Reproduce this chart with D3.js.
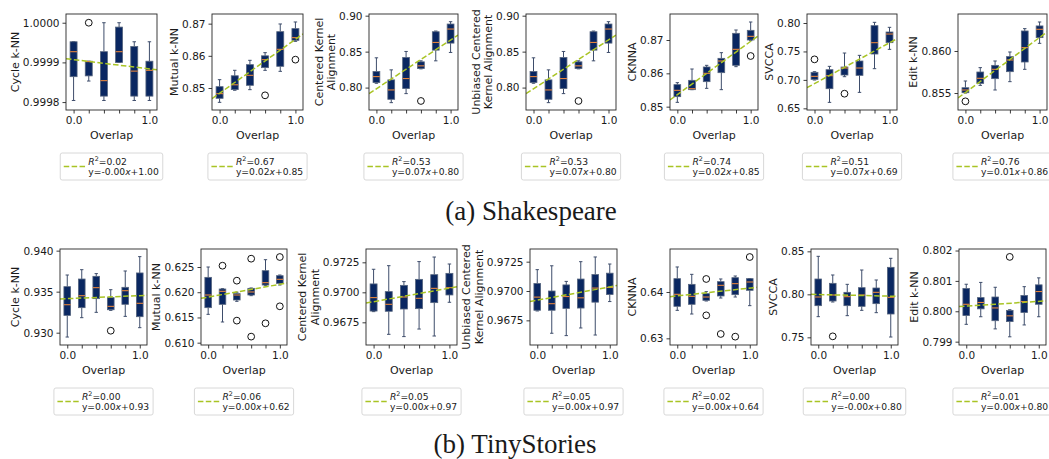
<!DOCTYPE html>
<html>
<head>
<meta charset="utf-8">
<script src="https://cdn.jsdelivr.net/npm/d3@7"></script>
<style>
  body { margin: 0; background: #fff; }
  svg { display: block; }
  text { font-family: "DejaVu Sans", sans-serif; fill: #1a1a1a; }
  .caption { font-family: "Liberation Serif", "Times New Roman", serif; }
</style>
</head>
<body>
<svg id="chart" width="1049" height="459"></svg>
<script>
// Overlap levels on the x axis
const overlap = [0.0, 0.2, 0.4, 0.6, 0.8, 1.0];
const metricNames = ["Cycle k-NN", "Mutual k-NN", "Centered Kernel\nAlignment",
  "Unbiased Centered\nKernel Alignment", "CKNNA", "SVCCA", "Edit k-NN"];

// Box statistics per overlap level: [lower whisker, Q1, median, Q3, upper whisker]
// Shakespeare
const shCycle = [
  [0.999804, 0.999864, 0.999927, 0.999952, 0.999952],
  [0.999853, 0.999866, 0.999902, 0.999903, 0.999903],
  [0.999804, 0.999815, 0.999854, 0.999927, 1.000000],
  [0.999900, 0.999900, 0.999927, 0.999989, 1.000000],
  [0.999804, 0.999815, 0.999878, 0.999940, 0.999952],
  [0.999804, 0.999815, 0.999880, 0.999903, 0.999952]];
const shMutual = [
  [0.84554, 0.84679, 0.84824, 0.85041, 0.85259],
  [0.8493, 0.8495, 0.8510, 0.8538, 0.8555],
  [0.84948, 0.85083, 0.85394, 0.85725, 0.8586],
  [0.85549, 0.85632, 0.85881, 0.8600, 0.86098],
  [0.85518, 0.85674, 0.86202, 0.86751, 0.8699],
  [0.86451, 0.86482, 0.86565, 0.86845, 0.87052]];
const shCka = [
  [0.806, 0.80698, 0.8153, 0.8223, 0.8414],
  [0.77907, 0.78372, 0.79674, 0.8107, 0.82465],
  [0.79163, 0.7986, 0.81256, 0.84186, 0.85023],
  [0.82605, 0.82651, 0.83023, 0.83581, 0.8372],
  [0.8372, 0.85209, 0.86279, 0.87767, 0.8786],
  [0.84884, 0.86186, 0.8814, 0.88837, 0.89163]];
const shUcka = [
  [0.806, 0.80698, 0.8153, 0.8223, 0.8414],
  [0.77907, 0.78372, 0.79674, 0.8107, 0.82465],
  [0.79163, 0.7986, 0.81256, 0.84186, 0.85023],
  [0.82605, 0.82651, 0.83023, 0.83581, 0.8372],
  [0.8372, 0.85209, 0.86279, 0.87767, 0.8786],
  [0.84884, 0.86186, 0.8814, 0.88837, 0.89163]];
const shCknna = [
  [0.8513, 0.8530, 0.8549, 0.8566, 0.8572],
  [0.8551, 0.8551, 0.8554, 0.8579, 0.8613],
  [0.8555, 0.8575, 0.8600, 0.8619, 0.8624],
  [0.8551, 0.8602, 0.8637, 0.8645, 0.8662],
  [0.8620, 0.8624, 0.8672, 0.8720, 0.8730],
  [0.8698, 0.8700, 0.8711, 0.8729, 0.8754]];
const shSvcca = [
  [0.69977, 0.70094, 0.70621, 0.71325, 0.71442],
  [0.66049, 0.68452, 0.70739, 0.71794, 0.7238],
  [0.70563, 0.70856, 0.72087, 0.72263, 0.74724],
  [0.67808, 0.70797, 0.72087, 0.73318, 0.74314],
  [0.7197, 0.74549, 0.76542, 0.79531, 0.80117],
  [0.75369, 0.76542, 0.78066, 0.78417, 0.79238]];
const shEdit = [
  [0.85500, 0.85504, 0.85536, 0.85563, 0.85643],
  [0.85591, 0.85615, 0.85675, 0.85750, 0.85802],
  [0.85536, 0.85671, 0.85782, 0.85829, 0.85881],
  [0.85635, 0.85754, 0.85893, 0.85933, 0.85988],
  [0.85782, 0.85869, 0.86040, 0.86238, 0.86266],
  [0.86091, 0.86159, 0.86258, 0.86298, 0.86345]];

// Outliers: [overlap, value]
const shOutliers = [
  [[0.2, 1.0000]],
  [[0.6, 0.84772], [1.0, 0.85881]],
  [[0.6, 0.7814]],
  [[0.6, 0.7814]],
  [[1.0, 0.8652]],
  [[0.0, 0.7361], [0.4, 0.67573]],
  [[0.0, 0.85401]]];

const shTickLabels = [
  ["0.9998", "0.9999", "1.0000"],
  ["0.85", "0.86", "0.87"],
  ["0.80", "0.85", "0.90"],
  ["0.80", "0.85", "0.90"],
  ["0.85", "0.86", "0.87"],
  ["0.65", "0.70", "0.75", "0.80"],
  ["0.855", "0.860"]];
const shDomains = [
  [0.99978, 1.000022], [0.84316, 0.8730], [0.76884, 0.90233], [0.76884, 0.90233],
  [0.8490, 0.8778], [0.64707, 0.81583], [0.85298, 0.8644]];

// Linear fits of metric vs overlap
const shSlope = [-0.0000233, 0.01676, 0.0678, 0.0678, 0.0160, 0.0718, 0.00655];
const shIntercept = [0.999907, 0.84836, 0.7984, 0.7984, 0.8536, 0.69346, 0.85506];
const shR2 = [0.02, 0.67, 0.53, 0.53, 0.74, 0.51, 0.76];

// TinyStories
const tsCycle = [
  [0.92947, 0.93211, 0.93341, 0.93561, 0.93703],
  [0.93183, 0.93305, 0.93451, 0.93654, 0.93768],
  [0.93248, 0.93415, 0.93549, 0.93687, 0.93720],
  [0.93272, 0.93280, 0.93321, 0.93427, 0.93524],
  [0.93199, 0.93346, 0.93512, 0.93553, 0.93752],
  [0.93061, 0.93195, 0.93358, 0.93728, 0.93927]];
const tsMutual = [
  [0.61562, 0.61694, 0.61945, 0.62295, 0.62500],
  [0.61410, 0.61760, 0.62018, 0.62064, 0.62071],
  [0.61820, 0.61846, 0.61945, 0.61972, 0.62000],
  [0.61932, 0.61945, 0.62005, 0.62077, 0.62084],
  [0.62130, 0.62143, 0.62190, 0.62427, 0.62645],
  [0.62143, 0.62176, 0.62256, 0.62328, 0.62341]];
const tsCka = [
  [0.96839, 0.96844, 0.96956, 0.97070, 0.97192],
  [0.96650, 0.96842, 0.96900, 0.97006, 0.97222],
  [0.96631, 0.96861, 0.96961, 0.97058, 0.97089],
  [0.96694, 0.96864, 0.96950, 0.97108, 0.97256],
  [0.96636, 0.96914, 0.97033, 0.97147, 0.97294],
  [0.96917, 0.96978, 0.97039, 0.97158, 0.97236]];
const tsUcka = [
  [0.96830, 0.96836, 0.96948, 0.97064, 0.97182],
  [0.96640, 0.96836, 0.96892, 0.97000, 0.97215],
  [0.96620, 0.96852, 0.96953, 0.97052, 0.97082],
  [0.96685, 0.96855, 0.96942, 0.97102, 0.97250],
  [0.96625, 0.96905, 0.97025, 0.97140, 0.97290],
  [0.96910, 0.96970, 0.97030, 0.97152, 0.97230]];
const tsCknna = [
  [0.63604, 0.63691, 0.63950, 0.64288, 0.64540],
  [0.63525, 0.63734, 0.63906, 0.64165, 0.64381],
  [0.63806, 0.63820, 0.63892, 0.63964, 0.64007],
  [0.63870, 0.63914, 0.64144, 0.64223, 0.64281],
  [0.63892, 0.63942, 0.64180, 0.64309, 0.64345],
  [0.63705, 0.64036, 0.64216, 0.64288, 0.64288]];
const tsSvcca = [
  [0.77403, 0.78682, 0.79690, 0.81783, 0.84419],
  [0.79109, 0.79225, 0.79922, 0.81279, 0.82248],
  [0.77520, 0.78682, 0.79729, 0.80233, 0.81163],
  [0.78140, 0.78605, 0.79922, 0.80775, 0.82829],
  [0.77868, 0.78915, 0.80233, 0.80736, 0.81667],
  [0.75039, 0.77713, 0.79651, 0.83140, 0.84186]];
const tsEdit = [
  [0.79957, 0.79986, 0.80023, 0.80075, 0.80089],
  [0.79982, 0.80008, 0.80029, 0.80045, 0.80095],
  [0.79942, 0.79969, 0.80011, 0.80047, 0.80079],
  [0.79916, 0.79966, 0.79985, 0.80003, 0.80005],
  [0.79955, 0.79996, 0.80032, 0.80052, 0.80081],
  [0.79982, 0.80023, 0.80065, 0.80087, 0.80110]];

const tsOutliers = [
  [[0.6, 0.93024]],
  [[0.2, 0.62526], [0.4, 0.62229], [0.4, 0.61437], [0.6, 0.62665], [0.6, 0.61120],
   [0.8, 0.61384], [1.0, 0.62698], [1.0, 0.61721]],
  [],
  [],
  [[0.4, 0.64281], [0.4, 0.63496], [0.6, 0.63094], [0.8, 0.63036], [1.0, 0.64755]],
  [[0.2, 0.75116]],
  [[0.6, 0.80179]]];

const tsTickLabels = [
  ["0.930", "0.935", "0.940"],
  ["0.610", "0.615", "0.620", "0.625"],
  ["0.9675", "0.9700", "0.9725"],
  ["0.9675", "0.9700", "0.9725"],
  ["0.63", "0.64"],
  ["0.75", "0.80", "0.85"],
  ["0.799", "0.800", "0.801", "0.802"]];
const tsDomains = [
  [0.9285, 0.9402], [0.60954, 0.62857], [0.96561, 0.97361], [0.96540, 0.97358],
  [0.62856, 0.64928], [0.74109, 0.85271], [0.79889, 0.80205]];

const tsSlope = [0.000366, 0.00253, 0.00113, 0.00113, 0.00168, -0.00194, 0.000156];
const tsIntercept = [0.93415, 0.61904, 0.96922, 0.96922, 0.63916, 0.79981, 0.80017];
const tsR2 = [0.00, 0.06, 0.05, 0.05, 0.02, 0.00, 0.01];

// ---- layout ----
const rows = [
  { boxes: [shCycle, shMutual, shCka, shUcka, shCknna, shSvcca, shEdit],
    outliers: shOutliers, ticks: shTickLabels, domains: shDomains,
    slope: shSlope, intercept: shIntercept, r2: shR2,
    lefts: [66, 212, 369, 526, 670, 807, 958], widths: [91, 91, 89, 90, 88, 90, 89],
    top: 14, caption: "(a) Shakespeare", capX: 531, capY: 220 },
  { boxes: [tsCycle, tsMutual, tsCka, tsUcka, tsCknna, tsSvcca, tsEdit],
    outliers: tsOutliers, ticks: tsTickLabels, domains: tsDomains,
    slope: tsSlope, intercept: tsIntercept, r2: tsR2,
    lefts: [60, 201, 366, 530, 670, 811, 959], widths: [87, 86, 91, 87, 87, 87, 87],
    top: 249, caption: "(b) TinyStories", capX: 515, capY: 453 }
];
const plotH = 96;

const colors = {
  box: "#0a2761", boxEdge: "#55647e", whisker: "#3e4d6b",
  median: "#e5843c", fit: "#a9c424", frame: "#262626", legendEdge: "#d4d4d4"
};

const svg = d3.select("#chart");
let clipId = 0;

rows.forEach(row => {
  row.boxes.forEach((stats, i) => {
    const w = row.widths[i], h = plotH;
    const g = svg.append("g").attr("transform", `translate(${row.lefts[i]},${row.top})`);
    const x = d3.scaleLinear().domain([-0.1, 1.1]).range([0, w]);
    const y = d3.scaleLinear().domain(row.domains[i]).range([h, 0]);
    const bw = x(0.092) - x(0);
    const cid = "clip" + (clipId++);
    g.append("clipPath").attr("id", cid).append("rect").attr("width", w).attr("height", h);
    const plot = g.append("g").attr("clip-path", `url(#${cid})`);

    // whiskers and caps
    const bx = plot.selectAll("g.box").data(stats.map((s, k) => ({ s, p: overlap[k] })))
      .join("g").attr("class", "box");
    bx.append("line").attr("x1", d => x(d.p)).attr("x2", d => x(d.p))
      .attr("y1", d => y(d.s[0])).attr("y2", d => y(d.s[1]))
      .attr("stroke", colors.whisker).attr("stroke-width", 1);
    bx.append("line").attr("x1", d => x(d.p)).attr("x2", d => x(d.p))
      .attr("y1", d => y(d.s[3])).attr("y2", d => y(d.s[4]))
      .attr("stroke", colors.whisker).attr("stroke-width", 1);
    [0, 4].forEach(j => {
      bx.append("line").attr("x1", d => x(d.p) - bw / 4).attr("x2", d => x(d.p) + bw / 4)
        .attr("y1", d => y(d.s[j])).attr("y2", d => y(d.s[j]))
        .attr("stroke", colors.whisker).attr("stroke-width", 1);
    });
    bx.append("rect").attr("x", d => x(d.p) - bw / 2).attr("width", bw)
      .attr("y", d => y(d.s[3])).attr("height", d => Math.max(0.5, y(d.s[1]) - y(d.s[3])))
      .attr("fill", colors.box).attr("stroke", colors.boxEdge).attr("stroke-width", 0.8);
    bx.append("line").attr("x1", d => x(d.p) - bw / 2).attr("x2", d => x(d.p) + bw / 2)
      .attr("y1", d => y(d.s[2])).attr("y2", d => y(d.s[2]))
      .attr("stroke", colors.median).attr("stroke-width", 1.1);

    // outliers
    plot.selectAll("circle").data(row.outliers[i]).join("circle")
      .attr("cx", d => x(d[0])).attr("cy", d => y(d[1])).attr("r", 3.4)
      .attr("fill", "none").attr("stroke", "#111").attr("stroke-width", 1);

    // regression line
    const a = row.slope[i], b = row.intercept[i];
    plot.append("line")
      .attr("x1", x(-0.1)).attr("y1", y(a * -0.1 + b))
      .attr("x2", x(1.1)).attr("y2", y(a * 1.1 + b))
      .attr("stroke", colors.fit).attr("stroke-width", 1.5)
      .attr("stroke-dasharray", "5.5,2.4");

    // frame
    g.append("rect").attr("width", w).attr("height", h).attr("fill", "none")
      .attr("stroke", colors.frame).attr("stroke-width", 0.9);

    // x axis
    const xa = g.append("g").attr("transform", `translate(0,${h})`)
      .call(d3.axisBottom(x).tickValues(overlap).tickSize(3.5).tickPadding(3)
        .tickFormat(v => (v === 0 || v === 1) ? v.toFixed(1) : ""));
    xa.select(".domain").remove();
    xa.selectAll("line").attr("stroke", colors.frame).attr("stroke-width", 0.9);
    xa.selectAll("text").attr("font-size", 10.5).attr("fill", "#1a1a1a")
      .attr("font-family", "DejaVu Sans");

    // y axis
    const tv = row.ticks[i].map(Number);
    const ya = g.append("g")
      .call(d3.axisLeft(y).tickValues(tv).tickSize(3.5).tickPadding(3)
        .tickFormat((v, k) => row.ticks[i][k]));
    ya.select(".domain").remove();
    ya.selectAll("line").attr("stroke", colors.frame).attr("stroke-width", 0.9);
    ya.selectAll("text").attr("font-size", 10.5).attr("fill", "#1a1a1a")
      .attr("font-family", "DejaVu Sans");
    let minX = 0;
    ya.selectAll("text").each(function () {
      minX = Math.min(minX, -6.5 - this.getComputedTextLength());
    });

    // axis labels
    g.append("text").attr("x", w / 2).attr("y", h + 29).attr("text-anchor", "middle")
      .attr("font-size", 11).text("Overlap");
    const lines = metricNames[i].split("\n");
    const baseX = minX - 4;
    lines.forEach((ln, k) => {
      const lx = baseX - (lines.length - 1 - k) * 12.5;
      g.append("text").attr("transform", `translate(${lx},${h / 2}) rotate(-90)`)
        .attr("text-anchor", "middle").attr("font-size", 11).text(ln);
    });

    // legend
    const lg = g.append("g");
    const t1 = lg.append("text").attr("font-size", 9.2).attr("x", 28).attr("y", 11.8);
    t1.append("tspan").attr("font-style", "italic").text("R");
    t1.append("tspan").attr("font-size", 6.4).attr("dy", -3.6).text("2");
    t1.append("tspan").attr("dy", 3.6).text("=" + row.r2[i].toFixed(2));
    const t2 = lg.append("text").attr("font-size", 9.2).attr("x", 28).attr("y", 22.2);
    t2.append("tspan").text("y=" + a.toFixed(2));
    t2.append("tspan").attr("font-style", "italic").text("x");
    t2.append("tspan").text((b >= 0 ? "+" : "") + b.toFixed(2));
    const tw = Math.max(t1.node().getComputedTextLength(), t2.node().getComputedTextLength());
    const lw = 28 + tw + 4, lh = 27;
    lg.insert("rect", ":first-child").attr("width", lw).attr("height", lh)
      .attr("rx", 2).attr("fill", "#fff").attr("stroke", colors.legendEdge).attr("stroke-width", 0.9);
    lg.append("line").attr("x1", 3.5).attr("x2", 26).attr("y1", lh / 2).attr("y2", lh / 2)
      .attr("stroke", colors.fit).attr("stroke-width", 1.5).attr("stroke-dasharray", "5.5,2.4");
    lg.attr("transform", `translate(${(w - lw) / 2},${h + 43})`);
  });

  svg.append("text").attr("class", "caption").attr("x", row.capX).attr("y", row.capY)
    .attr("text-anchor", "middle").attr("font-size", 27).text(row.caption);
});
</script>
</body>
</html>
